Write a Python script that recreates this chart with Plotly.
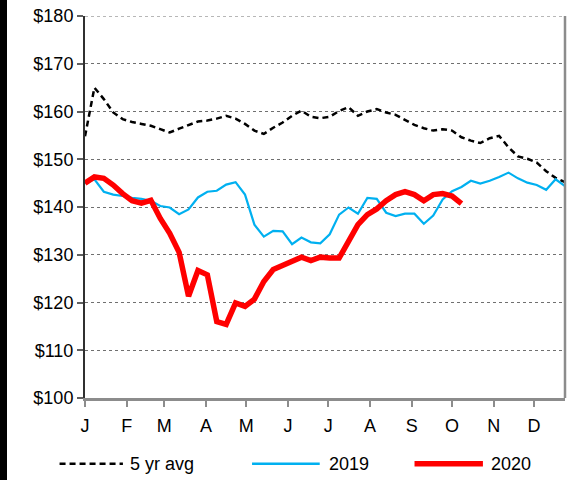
import plotly.graph_objects as go

# Weekly observations (day offsets within the year)
week_days = [7 * i for i in range(52)]

avg5 = [154.8, 165.0, 162.6, 159.8, 158.4, 157.8, 157.4, 157.0, 156.3, 155.6,
        156.4, 157.2, 157.9, 158.1, 158.5, 159.1, 158.5, 157.4, 156.0, 155.3,
        156.6, 157.7, 159.1, 160.2, 158.9, 158.6, 158.9, 160.1, 160.9, 159.1,
        160.0, 160.5, 159.8, 159.3, 158.3, 157.2, 156.5, 156.0, 156.3, 156.0,
        154.6, 153.9, 153.4, 154.4, 154.9, 152.5, 150.6, 150.1, 149.3, 147.5,
        146.1, 145.2]

y2019 = [145.0, 145.8, 143.2, 142.6, 142.3, 141.9, 141.7, 141.3, 140.2, 139.9,
         138.5, 139.5, 142.0, 143.2, 143.4, 144.7, 145.2, 142.6, 136.3, 133.8,
         135.0, 134.9, 132.2, 133.6, 132.6, 132.4, 134.3, 138.4, 139.9, 138.6,
         141.9, 141.7, 138.8, 138.1, 138.6, 138.6, 136.5, 138.2, 141.6, 143.3,
         144.2, 145.5, 144.9, 145.5, 146.3, 147.2, 146.0, 145.1, 144.6, 143.6,
         145.8, 144.4]

y2020 = [145.0, 146.3, 146.0, 144.6, 142.8, 141.3, 140.8, 141.4, 137.6, 134.5,
         130.5, 121.3, 126.7, 125.8, 116.0, 115.4, 119.9, 119.2, 120.7, 124.4,
         126.9, 127.8, 128.7, 129.5, 128.8, 129.5, 129.3, 129.3, 132.8, 136.3,
         138.4, 139.6, 141.3, 142.6, 143.2, 142.6, 141.3, 142.6, 142.8, 142.3,
         140.7]

month_start_days = [0, 31, 59, 90, 120, 151, 181, 212, 243, 273, 304, 334]
month_labels = ["J", "F", "M", "A", "M", "J", "J", "A", "S", "O", "N", "D"]
y_ticks = [100, 110, 120, 130, 140, 150, 160, 170, 180]
y_labels = ["$%d" % v for v in y_ticks]

series_names = ["5 yr avg", "2019", "2020"]
colors = ["#000000", "#00B0F0", "#FF0000"]

FONT = "Liberation Sans, Arial, sans-serif"
FS = 18

fig = go.Figure()
fig.add_trace(go.Scatter(x=week_days, y=avg5, mode="lines", name=series_names[0],
                         line=dict(color=colors[0], width=2.5, dash="6px,4px"),
                         showlegend=False))
fig.add_trace(go.Scatter(x=week_days, y=y2019, mode="lines", name=series_names[1],
                         line=dict(color=colors[1], width=2.2), showlegend=False))
fig.add_trace(go.Scatter(x=week_days[:len(y2020)], y=y2020, mode="lines",
                         name=series_names[2],
                         line=dict(color=colors[2], width=5.5), showlegend=False))

fig.update_xaxes(range=[week_days[0], week_days[-1]], tickmode="array",
                 tickvals=month_start_days, ticktext=month_labels,
                 showgrid=False, zeroline=False, showline=True, automargin=False,
                 linecolor="#8c8c8c", linewidth=2.5, ticks="outside",
                 ticklen=6, tickcolor="#8c8c8c", tickwidth=1.5,
                 ticklabelstandoff=4,
                 tickfont=dict(family=FONT, size=FS, color="#000"))
fig.update_yaxes(range=[100, 180], tickmode="array", tickvals=y_ticks,
                 ticktext=y_labels, showgrid=True, gridcolor="#707070",
                 griddash="dot", gridwidth=1, zeroline=False, showline=True,
                 automargin=False,
                 linecolor="#303030", linewidth=2, ticks="outside", ticklen=6,
                 tickcolor="#606060", tickwidth=1.5,
                 tickfont=dict(family=FONT, size=FS, color="#000"))

# top gridline at the upper end of the value axis
fig.add_shape(type="line", xref="paper", yref="y", x0=0, x1=1,
              y0=y_ticks[-1], y1=y_ticks[-1],
              line=dict(color="#707070", width=1, dash="dot"))
# right border of plot area
fig.add_shape(type="line", xref="paper", yref="paper", x0=1, x1=1, y0=0, y1=1,
              line=dict(color="#8c8c8c", width=2.5))
# dark strip on left edge of the original image
fig.add_shape(type="rect", xref="paper", yref="paper", x0=-85 / 480, x1=-78 / 480,
              y0=-0.22, y1=1.05, line=dict(width=0), fillcolor="#000")

# manual legend
leg_y = -0.172
legend_items = [
    (series_names[0], colors[0], 2.5, "6px,4px", -0.053, 0.079, 0.090),
    (series_names[1], colors[1], 2.5, "solid", 0.348, 0.489, 0.504),
    (series_names[2], colors[2], 5.5, "solid", 0.6865, 0.829, 0.842),
]
for name, col, w, dash, xa, xb, xt in legend_items:
    fig.add_shape(type="line", xref="paper", yref="paper", x0=xa, x1=xb,
                  y0=leg_y, y1=leg_y, line=dict(color=col, width=w, dash=dash))
    fig.add_annotation(xref="paper", yref="paper", x=xt, y=leg_y, text=name,
                       showarrow=False, xanchor="left", yanchor="middle",
                       font=dict(family=FONT, size=FS, color="#000"))

fig.update_layout(width=583, height=480,
                  margin=dict(l=85, r=18, t=16, b=82, autoexpand=False),
                  paper_bgcolor="#ffffff", plot_bgcolor="#ffffff",
                  showlegend=False)

fig.write_html("out.html", config={"displayModeBar": False},
               post_script="document.body.style.margin='0';"
                           "document.body.style.overflow='hidden';")
